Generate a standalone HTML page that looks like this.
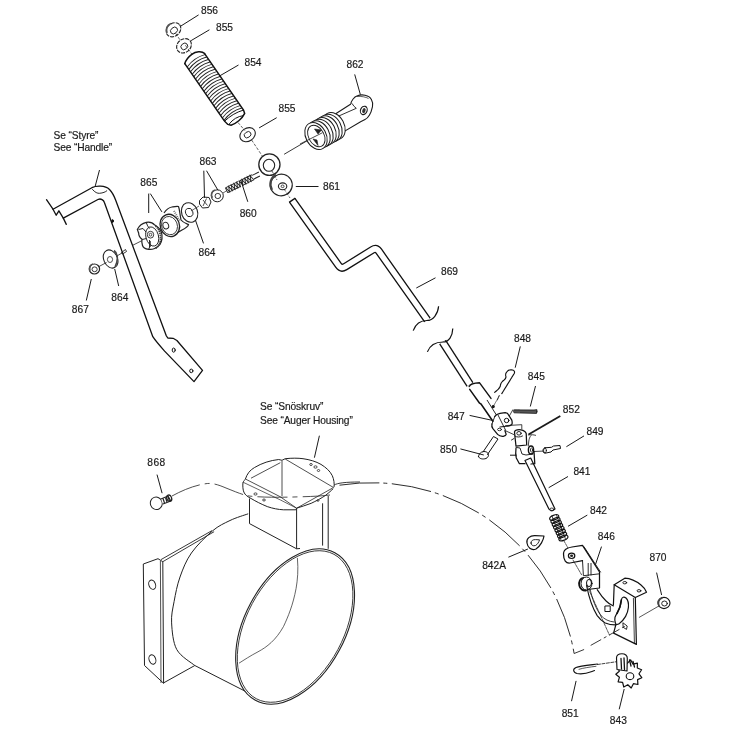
<!DOCTYPE html>
<html><head><meta charset="utf-8">
<style>
html,body{margin:0;padding:0;background:#fff;}
body{width:739px;height:749px;overflow:hidden;}
svg{display:block;will-change:transform;}
text{font-family:"Liberation Sans",sans-serif;font-size:10.2px;fill:#1a1a1a;stroke:#1a1a1a;stroke-width:0.18px;}
</style></head><body>
<svg width="739" height="749" viewBox="0 0 739 749">
<rect width="739" height="749" fill="#fff"/>
<g id="handle" stroke="#111" stroke-width="1.3" fill="none" stroke-linejoin="round" stroke-linecap="round">
<path d="M46.5 199.7 L53 209.2 L56.2 215.2 L58.9 210.8 L63.3 218.1 L66.3 224.4"/>
<path d="M53 209.2 L91.9 187.7 C96 185.6 105 185.2 109.5 189.5 C112.5 192.5 114.3 196.5 115.7 200.3 L166.2 335.6 L167.8 338 L173.1 338.3 L176.9 340.5 L202.5 370.4 L194 381.6 L164.6 351.1 C160 346 155 340 152.8 336.7 L104.4 202.5 C103.6 200 101 198.3 98.4 199.3 L63.3 218.1"/>
<path d="M92.5 189.5 C95 192.5 97.5 193.5 99.5 193.3 C103 193 105.5 192 106.8 190.8" stroke-width="0.9"/>
<ellipse cx="112.6" cy="221" rx="0.9" ry="1.5" fill="#111" stroke-width="0.8"/>
<ellipse cx="173.7" cy="350.1" rx="1.5" ry="2.1" stroke-width="1"/>
<ellipse cx="191.3" cy="370.9" rx="1.6" ry="1.8" stroke-width="1"/>
</g>
<g id="rod" fill="none" stroke-linejoin="round">
<path d="M292.2 200.25 L338.59 265.53 Q341.2 269.2 345.02 266.83 L372.38 249.87 Q376.2 247.5 378.80 251.18 L427.4 320.0" stroke="#111" stroke-width="8.0"/>
<path d="M292.2 200.25 L338.59 265.53 Q341.2 269.2 345.02 266.83 L372.38 249.87 Q376.2 247.5 378.80 251.18 L427.4 320.0" stroke="#fff" stroke-width="5.4"/>
<path d="M289.1 202.4 L295.3 198.1" stroke="#111" stroke-width="1.3"/>
<path d="M442.6 342 L470 384.5" stroke="#111" stroke-width="8.2"/>
<path d="M442.6 342 L470 384.5" stroke="#fff" stroke-width="5.6"/>
<path d="M413.2 330.6 C416 323 421 320.5 427 320.5 C433 320.5 438 314 438.6 306.3" stroke="#111" stroke-width="1.2"/>
<rect x="410" y="321.5" width="0" height="0"/>
<path d="M427.4 351.9 C430 345 435 342 443 342 C449 342 452.5 336 452.8 328.6" stroke="#111" stroke-width="1.2"/>
</g>
<g id="grip" transform="translate(194.7,58.6) rotate(55.4)" fill="none" stroke="#111" stroke-linecap="round">
<path d="M1.5 -11 C-2.5 -10.5 -5.5 -5 -5.2 0 C-5 4 -4 8 -1.5 11" stroke-width="1.5"/>
<path d="M1.5 -11 L70 -11 L73.5 -10 C76.5 -5 77 3 75.5 8 L73 10 C71 10.5 69.5 11 67.5 11 L-1.5 11" stroke-width="1.5"/>
<path d="M2.50 -10.6 Q-1.10 0 2.50 10.6 M5.45 -10.6 Q1.85 0 5.45 10.6 M8.40 -10.6 Q4.80 0 8.40 10.6 M11.35 -10.6 Q7.75 0 11.35 10.6 M14.30 -10.6 Q10.70 0 14.30 10.6 M17.25 -10.6 Q13.65 0 17.25 10.6 M20.20 -10.6 Q16.60 0 20.20 10.6 M23.15 -10.6 Q19.55 0 23.15 10.6 M26.10 -10.6 Q22.50 0 26.10 10.6 M29.05 -10.6 Q25.45 0 29.05 10.6 M32.00 -10.6 Q28.40 0 32.00 10.6 M34.95 -10.6 Q31.35 0 34.95 10.6 M37.90 -10.6 Q34.30 0 37.90 10.6 M40.85 -10.6 Q37.25 0 40.85 10.6 M43.80 -10.6 Q40.20 0 43.80 10.6 M46.75 -10.6 Q43.15 0 46.75 10.6 M49.70 -10.6 Q46.10 0 49.70 10.6 M52.65 -10.6 Q49.05 0 52.65 10.6 M55.60 -10.6 Q52.00 0 55.60 10.6 M58.55 -10.6 Q54.95 0 58.55 10.6 M61.50 -10.6 Q57.90 0 61.50 10.6 M64.45 -10.6 Q60.85 0 64.45 10.6 M67.40 -10.6 Q63.80 0 67.40 10.6" stroke-width="0.95" stroke="#222"/>
<path d="M70 -10.8 Q66.5 0 68.5 11" stroke-width="0.9"/>
<path d="M74.5 -7.5 Q70.5 0 73.5 9" stroke-width="0.9"/>
</g>
<g id="smallparts" fill="none" stroke="#222" stroke-width="1.1">
<!-- axis lines -->
<path d="M175.7 33.4 L180 39.9 M185.4 45.3 L192.5 55 M238 122.5 L244.9 130.6 M251.6 140 L262.5 156.3 M272 171 L277 180 M284 189 L290 198" stroke-width="0.7" stroke-dasharray="3 1.5"/>
<path d="M284.1 154.3 L322 132" stroke-width="0.9"/>
<path d="M132.5 245.4 L142.6 240.3 M99 266.5 L106.5 262.5 M116 256.5 L122 253" stroke-width="0.8"/>
<path d="M191 211 L199 206 M211 198 L213 196.5 M223 193 L227 190.5" stroke-width="0.7"/>
<!-- nut 856 -->
<ellipse cx="173.5" cy="29.8" rx="7.9" ry="6.4" transform="rotate(-40 173.5 29.8)" stroke-dasharray="4 1"/>
<path d="M167 33 C165.5 29 167 25 171 23.5" stroke-width="1.8" stroke="#555"/>
<ellipse cx="174" cy="30.5" rx="3.8" ry="3" transform="rotate(-40 174 30.5)" stroke-width="0.9"/>
<!-- washer 855 top -->
<ellipse cx="184" cy="45.8" rx="7.9" ry="6.6" transform="rotate(-40 184 45.8)" stroke-dasharray="4 1"/>
<ellipse cx="184.3" cy="46.4" rx="3.6" ry="3" transform="rotate(-40 184.3 46.4)" stroke-width="0.9"/>
<!-- washer 855 mid -->
<ellipse cx="247.6" cy="134.7" rx="8.2" ry="6.5" transform="rotate(-35 247.6 134.7)"/>
<ellipse cx="247.6" cy="134.7" rx="3.6" ry="2.8" transform="rotate(-35 247.6 134.7)" stroke-width="0.9"/>
<!-- eye bolt 860 -->
<ellipse cx="269.4" cy="164.6" rx="10.6" ry="10.8" stroke-width="1.3"/>
<ellipse cx="269" cy="165.3" rx="5.7" ry="6" stroke-width="1.1"/>
<g transform="translate(226.6,190.3) rotate(-26.4)">
<path d="M29.5 -2 L37 -2 M29.5 2 L36.2 2" stroke-width="1"/>
<path d="M0 -2.7 L14.5 -2.7 M16 -2.7 L29.5 -2.7 M0 2.7 L14.5 2.7 M16 2.7 L29.5 2.7 M0 -2.7 L0 2.7" stroke-width="0.9"/>
<path d="M0.50 -2.6 L2.00 2.6 L3.50 -2.6 L5.00 2.6 L6.50 -2.6 L8.00 2.6 L9.50 -2.6 L11.00 2.6 L12.50 -2.6 L14.00 2.6 L15.50 -2.6 L17.00 2.6 L18.50 -2.6 L20.00 2.6 L21.50 -2.6 L23.00 2.6 L24.50 -2.6 L26.00 2.6 L27.50 -2.6 L29.00 2.6" stroke-width="0.9"/>
</g>
<!-- nut 861 -->
<ellipse cx="281.3" cy="185" rx="11" ry="10.8" transform="rotate(-30 281.3 185)" stroke-width="1.2"/>
<path d="M272 190 C268.5 184 271 177 276 175" stroke-width="2.2" stroke="#444"/>
<ellipse cx="282.6" cy="186.3" rx="4.2" ry="3.4" stroke-width="1.1"/>
<ellipse cx="282.6" cy="186.3" rx="1.5" ry="1.3" stroke-width="0.8"/>
<!-- nuts 863 -->
<ellipse cx="217.3" cy="195.8" rx="6" ry="6" stroke-width="1"/>
<ellipse cx="217.8" cy="196" rx="2.8" ry="2.6" stroke-width="0.9"/>
<path d="M212 198 C210.5 194 212 191 215 190" stroke-width="1.6" stroke="#555"/>
<path d="M199.5 200.5 L203 197 L209 197.5 L211 202 L208.5 207.5 L202.5 208 L199.5 204 Z" stroke-width="1"/>
<path d="M203 200 L207.5 205.5 M206.5 198.5 L203 206" stroke-width="0.8"/>
<!-- washer 864 right -->
<ellipse cx="189.6" cy="212.5" rx="8" ry="10" transform="rotate(-20 189.6 212.5)" stroke-width="1.1"/>
<ellipse cx="189.2" cy="212.5" rx="3.6" ry="4.3" transform="rotate(-20 189.2 212.5)" stroke-width="0.9"/>
<!-- 865 cylinder -->
<path d="M164 213 C166 210 169 207.5 172 207 C175 206.5 177.5 206 178.5 206.6 C179.5 209 179.7 213 181 220 C183 222.5 186 223.5 188.5 224.6 C188 226.5 186 228 182 230 C178 232.5 174 235 170 236" stroke-width="1.2" fill="#fff"/>
<ellipse cx="169.8" cy="225.4" rx="9.6" ry="11.3" transform="rotate(-20 169.8 225.4)" stroke-width="1.3" fill="#fff"/>
<ellipse cx="169.5" cy="225.6" rx="7.8" ry="9.3" transform="rotate(-20 169.5 225.6)" stroke-width="0.8"/>
<ellipse cx="165.8" cy="225.6" rx="2.8" ry="3.4" transform="rotate(-20 165.8 225.6)" stroke-width="1"/>
<path d="M174 211 L180 221.5" stroke-width="2" stroke="#666" stroke-dasharray="1 1"/>
<!-- knob -->
<path d="M137.3 229.4 C139 226 143 223 146.3 222.3 C150 221.5 153 223 154.8 225.1 C158 227 160.5 229.5 161.4 232.2 C162.5 236 162 241 160 244.5 C157.5 248 152 250 148.6 249.3 C145 248.8 143 247.5 142.5 245.5 C141.8 243 141.5 241 142 239.3 C140 237.5 138.5 235.5 138.7 233.2 Z" stroke-width="1.2" fill="#fff"/>
<path d="M155.5 226 C159.5 229 161 235 160.5 240 C160 244 158 247 155 248.5" stroke-width="1.8" stroke="#333" stroke-dasharray="1.3 0.7"/>
<ellipse cx="152.2" cy="236.5" rx="6.3" ry="9.8" transform="rotate(-15 152.2 236.5)" stroke-width="0.9"/>
<path d="M138.5 229.5 L143 228.5 L146 232 M146.3 222.6 C147 225 148 227 149.5 228.5 M142.2 239.5 L146.5 238.5 M149.5 240 L150 246 L148.8 249" stroke-width="1"/>
<ellipse cx="150.5" cy="234.7" rx="3.2" ry="3.4" stroke-width="0.9"/>
<ellipse cx="150.5" cy="234.7" rx="1.3" ry="1.4" stroke-width="0.8"/>
<path d="M150 241 L149.8 247" stroke-width="1.4"/>
<!-- bolt on handle -->
<path d="M121.5 252.5 L125.5 249.5 L126.5 251.5 L122.5 254 Z" stroke-width="0.9"/>
<!-- washer 864 left -->
<ellipse cx="110.6" cy="259" rx="6.8" ry="9.5" transform="rotate(-25 110.6 259)" stroke-width="1.1"/>
<path d="M114 250.5 C118 253 118.5 260 115 267" stroke-width="1.5" stroke="#444"/>
<ellipse cx="110" cy="259.5" rx="2.6" ry="3" stroke-width="0.8"/>
<!-- nut 867 -->
<ellipse cx="94.4" cy="269" rx="5.2" ry="5" stroke-width="1.2"/>
<ellipse cx="94.6" cy="269.3" rx="2.6" ry="2.4" stroke-width="0.9"/>
<path d="M90 271 C89 267 90.5 264.5 93 264" stroke-width="1.6" stroke="#555"/>
</g>
<g id="housing" fill="none" stroke="#222" stroke-width="1.0" stroke-linejoin="round">
<!-- dashed arc phantom -->
<path d="M339.5 485.2 A205.74 205.74 0 0 1 574.1 653.5" stroke-width="0.95" stroke-dasharray="40 4 4 4.5"/>
<path d="M574.1 653.5 L584.1 649.5" stroke-width="0.9"/><path d="M590.7 645.4 L625.2 626.1" stroke-width="0.9" stroke-dasharray="12 3 3 3"/>
<!-- bolt path dashed -->
<path d="M172 496 C183 490 195 485 207.3 483.5 C213 483 219 485 226 488 C236 492 243 495 249 496 C262 497.5 280 497.5 300 496.8 C312 496.5 322 496 330 495" stroke-width="0.8" stroke-dasharray="30 5 5 5"/>
<!-- bolt 868 -->
<ellipse cx="156.3" cy="503.3" rx="5.9" ry="6.3" transform="rotate(-20 156.3 503.3)" stroke-width="1.0" fill="#fff"/>
<path d="M161 499 L168 496 L170.8 501 L163 504" stroke-width="1.1" fill="#fff"/>
<path d="M163 498.5 L164.5 503 M165.5 497.5 L167 502 M168 496.5 L169.5 501" stroke-width="1.2"/>
<ellipse cx="169.2" cy="498.2" rx="2.4" ry="3.2" transform="rotate(-20 169.2 498.2)" stroke-width="1.3"/>
<!-- cylinder body -->

<path d="M248.2 513.8 C245.2 514.9 235.9 517.6 230 520.5 C224.1 523.4 218.9 525.5 212.5 530.9 C206.1 536.3 196.8 545.3 191.4 553 C186.0 560.7 182.9 568.9 180 577 C177.1 585.1 175.5 593.9 174.1 601.5 C172.7 609.1 171.1 614.9 171.6 622.9 C172.1 630.9 172.9 642.5 176.8 649.6 C180.7 656.7 191.8 662.9 194.8 665.5 L247.5 692.4" stroke-width="1.0"/>
<!-- side plate -->
<path d="M143.3 564 L158 558.7 L162.8 561.7 L163.6 683.3 L144.5 665.5 Z" stroke-width="1.0" fill="#fff"/>
<path d="M160.4 561 L161 683" stroke-width="0.8"/>
<ellipse cx="152.2" cy="584.7" rx="3.3" ry="4.8" transform="rotate(-20 152.2 584.7)" stroke-width="1.0"/>
<ellipse cx="152.4" cy="659.5" rx="3.3" ry="4.8" transform="rotate(-20 152.4 659.5)" stroke-width="1.0"/>
<path d="M162.8 561.7 L214.1 531.7 M161 559.6 L212 530.6" stroke-width="0.9"/>
<path d="M163.4 683 L194.8 665.5" stroke-width="1"/>
<!-- front ellipse -->
<ellipse cx="295.1" cy="626.5" rx="83.8" ry="50.2" transform="rotate(-61.7 295.1 626.5)" stroke-width="1.1" fill="#fff"/>
<ellipse cx="295.1" cy="626.5" rx="82" ry="48.6" transform="rotate(-61.7 295.1 626.5)" stroke-width="0.8"/>
<path d="M297.4 557.9 C298.5 570 297.5 580 296.1 588.4 C293 605 288 617 283.5 626.5 C276 640 267 647 258 651.8 C250 656 244 660 239 663.2" stroke-width="0.7"/>
<!-- chute -->
<path d="M249.5 498.5 L249.5 523.6 L296.6 548.8 L296.6 508.2 M296.6 548.8 L300 548.5 M322.6 503.3 L322.6 545.6 M328.2 496 L328.2 548.8" stroke-width="1"/>
<path d="M245.4 479 C247 474 250 470 254.4 467.6 C262 463 270 460.5 278.7 459.5 L282 460.3 L285.2 458.7 C292 458 298 458 303 458.7 C310 459.7 316 461.5 321 464.4 C326 467.5 330 471 332.3 475.7 C334 479.5 334.5 484 334 487.1" stroke-width="1.0"/>
<path d="M243 482.2 C242.5 486 243 490 243.8 492 C245 495 248 497 251.1 498.5 C256 501.5 261 504 267.3 506.6 C273 508.5 278 509.5 283.6 509.8 L295.8 509.8 L296.6 508.2 C301 507 306 505 311.2 503.3 C316 501 321 498.5 325.8 495.2 C329 492.5 331.5 490.5 333.1 488.7" stroke-width="1.0"/>
<path d="M243 482.2 L245.4 479 L280.3 496.8 L296.6 508.2 M282 461 L282 496 M285.2 459 L333.5 487.5 M251 478.2 L280.3 462.7 M297 508 L333.5 487.5" stroke-width="0.8"/>
<path d="M243 482.2 L280.5 500 L296.6 508.2" stroke-width="0.7"/>
<ellipse cx="255.5" cy="494" rx="1.6" ry="1.1" stroke-width="0.8"/>
<ellipse cx="264" cy="500" rx="1.4" ry="1" stroke-width="0.8"/>
<ellipse cx="311" cy="464.5" rx="1.3" ry="1" stroke-width="0.8"/>
<ellipse cx="315.5" cy="467" rx="1.6" ry="1.2" stroke-width="0.8"/>
<ellipse cx="318.5" cy="470.5" rx="1.2" ry="1" stroke-width="0.8"/>
<ellipse cx="318" cy="500.5" rx="1" ry="0.8" stroke-width="0.8"/>
<path d="M360 482 C345 482 338 483 334 485" stroke-width="0.9"/>
</g>
<g id="p862" fill="none" stroke="#1a1a1a" stroke-width="1.1" stroke-linejoin="round">
<path d="M350.9 104 C351 101 354 97 357.4 95.8 C360 94.8 363 94.8 365 95.3 C368 96 370.5 97.5 371.4 99.6 C373 102.5 373 104.5 372.5 106.7 C371.8 110 371 113 369.3 115.3 C368 117.5 366.5 119 365 119.6 L360.6 121.8 L342.2 132.6 L333 125 Z" fill="#fff" stroke="none"/>
<path d="M350.9 104 C351 101 354 97 357.4 95.8 C360 94.8 363 94.8 365 95.3 C368 96 370.5 97.5 371.4 99.6 C373 102.5 373 104.5 372.5 106.7 C371.8 110 371 113 369.3 115.3 C368 117.5 366.5 119 365 119.6 L360.6 121.8 L342.2 132.6 M335.7 113.7 L350.9 104"/>
<path d="M352 103.4 C353 105.5 354.5 107 356.3 108.3 M337.9 116.4 L356.3 108.3" stroke-width="0.9"/>
<path d="M357 96.5 C361 96 366 97 368.5 98.5" stroke-width="0.7"/>
<ellipse cx="363.8" cy="110.4" rx="3.3" ry="4.3" transform="rotate(20 363.8 110.4)" stroke-width="1.1"/>
<ellipse cx="363.9" cy="110.6" rx="1.6" ry="2.6" transform="rotate(20 363.9 110.6)" fill="#333" stroke="none"/>
<ellipse cx="334.0" cy="126.0" rx="10.2" ry="14.3" transform="rotate(-28 334.0 126.0)" stroke-width="1" fill="#fff"/>
<ellipse cx="331.0" cy="127.7" rx="10.2" ry="14.3" transform="rotate(-28 331.0 127.7)" stroke-width="1" fill="#fff"/>
<ellipse cx="328.0" cy="129.3" rx="10.2" ry="14.3" transform="rotate(-28 328.0 129.3)" stroke-width="1" fill="#fff"/>
<ellipse cx="325.0" cy="131.0" rx="10.2" ry="14.3" transform="rotate(-28 325.0 131.0)" stroke-width="1" fill="#fff"/>
<ellipse cx="322.0" cy="132.7" rx="10.2" ry="14.3" transform="rotate(-28 322.0 132.7)" stroke-width="1" fill="#fff"/>
<ellipse cx="319.0" cy="134.3" rx="10.2" ry="14.3" transform="rotate(-28 319.0 134.3)" stroke-width="1" fill="#fff"/>
<ellipse cx="316.0" cy="136.0" rx="10.2" ry="14.3" transform="rotate(-28 316.0 136.0)" stroke-width="1" fill="#fff"/>
<ellipse cx="316.3" cy="136" rx="7.8" ry="11.5" transform="rotate(-28 316.3 136)" stroke-width="0.9"/>
<path d="M314.5 129 L318 134 L321.5 130 Z M313 139 L317 140 L318 145.5 Z" fill="#222" stroke-width="0.6"/>
<path d="M300 144 L322.7 132.6" stroke-width="0.8"/>
</g>
<g id="mech" fill="none" stroke="#111" stroke-width="1.25" stroke-linejoin="round" stroke-linecap="round">
<!-- sleeve -->
<path d="M469.2 386.6 C470 384.5 474 383 479.6 382.8 L491 398.4" stroke-width="1.4"/>
<path d="M469.7 389.4 L479.6 403.2 L481 404 L492.9 421.2" stroke-width="1.5"/>
<path d="M487.2 400.3 L496.7 415.5" stroke-width="0.9"/>
<!-- cotter pin 848 -->
<path d="M501.8 393.6 L514.2 373.5 C515 372 514.5 370.5 512.5 370 C510.5 369.5 508.5 370 507.7 371 C506 372.5 505.3 374 505.8 376 C506.3 377.5 505.5 379 503.5 380.5 C501.5 382 500.5 384 500.3 386 C499.5 388.5 497 390.5 494.7 392.3" stroke-width="1.15" stroke-dasharray="1.6 0.5"/>
<path d="M499 395.7 L497.4 400" stroke-width="0.7"/>
<path d="M499.5 395.6 L492.9 407" stroke-width="0.6" stroke-dasharray="2 1"/>
<ellipse cx="493.2" cy="406.5" rx="1" ry="1" fill="#222"/>
<!-- pin 845 -->
<path d="M512.8 409.8 L508 418.3" stroke-width="0.8"/>
<path d="M514.3 411.3 L536.5 411.6" stroke-width="3" stroke="#555" stroke-dasharray="1 0.5"/><path d="M514.3 409.9 L534 410 L536.8 409.5 L536.5 413.5 L514.3 412.8" stroke-width="0.8"/>
<!-- clevis 847 -->
<path d="M494.8 416.4 C496 414.5 498 413.7 500 413.3 L505.2 412.6 C507 412.8 508 413.5 508.5 414.8 L511.8 420.2 C512.3 422 512.3 423.5 511.8 424.5 C510.5 425.6 509.5 426 508 426 L500 427" fill="#fff"/>
<path d="M492 424 C491.5 426 492 427.5 492.9 428.7 L497.6 434.4 C499 435.8 501 436.5 503.3 436.3 C505 436 506 435.5 506.2 434.4 L505 431" fill="#fff"/>
<path d="M494.8 416.4 L492 424 M498 415 L505.5 430" stroke-width="0.9"/>
<ellipse cx="506.6" cy="420.5" rx="2.3" ry="2.2" stroke-width="1"/>
<path d="M505.6 425.6 L521.8 424.7 L521.8 428.8 M504.7 430.4 L513.7 434.5" stroke-width="0.8"/>
<ellipse cx="499.5" cy="429.5" rx="2" ry="1.2" stroke-width="0.8"/>
<!-- bolt 850 -->
<path d="M483 452 L493.5 436.5 L498 439 L487.5 454.5" stroke-width="1"/>
<path d="M478.5 456.5 C479 452.5 483 450.5 486.5 452 C489.5 453.5 489 457 486 458.5 C483 459.5 479 459 478.5 456.5 Z" stroke-width="1"/>
<!-- swivel 852 -->
<path d="M514.5 432 C515 430 518 429.5 521 429.8 C523.5 430.2 525.5 431.5 526.2 433.5 L526.7 445 L516 446.2 L515 437 Z" fill="#fff"/>
<path d="M514.8 436 C516.5 437.5 520 437.3 522.5 436" stroke-width="0.9"/>
<ellipse cx="519" cy="433.3" rx="2.2" ry="1.8" stroke-width="0.9"/>
<path d="M511.5 440 L514 438.5" stroke-width="0.9"/>
<path d="M528.3 434.9 C531 434.5 533.5 434.7 535.6 435.3 M531 435.5 C529.5 437 529.1 439.4 528.8 441 L528.3 445.9" stroke-width="0.8"/>
<!-- lower bracket -->
<path d="M516 448 C515.5 452 515.8 456 516.3 458 L519.4 463.7 L525 463.7 M534 451.5 L534.8 463.7 L531 464" fill="#fff"/>
<path d="M516.5 447.5 L520 448 L522 454 L526 455 L533 454" stroke-width="0.9"/>
<path d="M510.4 455.2 L516.1 455.2" stroke-width="1"/>
<ellipse cx="531" cy="450" rx="2.6" ry="4" fill="#fff" stroke-width="1.4"/>
<ellipse cx="531.5" cy="450" rx="1.1" ry="2" stroke-width="0.8"/>
<!-- pin 849 -->
<path d="M534 451.5 L542.9 451.1" stroke-width="0.8"/>
<path d="M545 447.8 L551.5 447.3 L553.5 446 L560 445.5 L560.5 448.5 L553 450 L551 452 L545 453.2 C542.5 453.2 542 448 545 447.8 Z" stroke-width="1"/>
<ellipse cx="545" cy="450.5" rx="1.4" ry="2.4" stroke-width="0.8"/>
<!-- rod 841 -->
<path d="M525 460.5 L548.9 509 M530.7 458 L555 509 M548.9 509 C550.5 511 553.5 511 555 509 M525 460.5 L530.7 458" stroke-width="1.2"/>
<ellipse cx="551.8" cy="509.5" rx="2" ry="1.5" stroke-width="0.8"/>
<!-- spring 842 -->
<path d="M552 516 L561 540 M556.5 515 L565.5 539" stroke-width="0.8"/>
<ellipse cx="554.2" cy="517.5" rx="4.8" ry="2.3" transform="rotate(-22 554.2 517.5)" stroke-width="1.15"/>
<ellipse cx="555.5" cy="520.4" rx="4.8" ry="2.3" transform="rotate(-22 555.5 520.4)" stroke-width="1.15"/>
<ellipse cx="556.8" cy="523.4" rx="4.8" ry="2.3" transform="rotate(-22 556.8 523.4)" stroke-width="1.15"/>
<ellipse cx="558.1" cy="526.3" rx="4.8" ry="2.3" transform="rotate(-22 558.1 526.3)" stroke-width="1.15"/>
<ellipse cx="559.5" cy="529.2" rx="4.8" ry="2.3" transform="rotate(-22 559.5 529.2)" stroke-width="1.15"/>
<ellipse cx="560.8" cy="532.1" rx="4.8" ry="2.3" transform="rotate(-22 560.8 532.1)" stroke-width="1.15"/>
<ellipse cx="562.1" cy="535.1" rx="4.8" ry="2.3" transform="rotate(-22 562.1 535.1)" stroke-width="1.15"/>
<ellipse cx="563.4" cy="538.0" rx="4.8" ry="2.3" transform="rotate(-22 563.4 538.0)" stroke-width="1.15"/>
<path d="M564 541 L568 548" stroke-width="0.7" stroke-dasharray="2 1.2"/>
<!-- washer 842A -->
<path d="M527 543 C526 538.5 530 535.5 535 535.7 L544 536 C543.5 540 540.5 546 536 549 C531 551 527.5 547 527 543 Z" stroke-width="1.2"/>
<path d="M531 543 C531 540.5 533 539.5 535.5 539.6 L539.5 539.8 C539 542 537.5 544.5 535.5 545.5 C533 546.5 531 545 531 543 Z" stroke-width="0.9"/>
<!-- lever 846 -->
<path d="M563.5 554 C563.5 551.5 565 549.5 567 548.5 C568.5 547.7 570 547.3 572 547 L582.5 545.4 L599.5 572 L599.5 588 L583.5 590" fill="#fff"/>
<path d="M582.5 560.6 L570 563 C566 563.5 563.5 560.5 563.5 554" fill="#fff"/>
<path d="M582.5 560.6 L583.4 575.7 L599.5 573.8 M584 546.8 L600.5 572 M588.2 563.4 L588.2 575.7 M591 563.4 L591 575" stroke-width="0.9"/>
<ellipse cx="571.6" cy="555.8" rx="3.2" ry="2.7" stroke-width="1.2"/>
<ellipse cx="571.6" cy="555.8" rx="1.5" ry="1.2" fill="#222" stroke="none"/>
<path d="M573 560 L582 575.5" stroke-width="0.7" stroke-dasharray="2 1"/>
<path d="M584 578 C580 578 578.5 582 579.3 585.5 C580 589 583 591 586 590.5" stroke-width="1.8"/>
<ellipse cx="586.5" cy="583.5" rx="5.5" ry="6.5" stroke-width="1" fill="#fff"/>
<ellipse cx="589" cy="583" rx="2.5" ry="3.6" stroke-width="1"/>
<!-- lever lower arm -->
<path d="M586.6 585.6 C589 598 592.5 608 597.2 615.6 C600 619.5 602.5 621.5 605.3 622.9 C609 624.5 612.5 625 615.9 624.9" stroke-width="1.1"/>
<path d="M597.2 589.6 C600 594 603 598 606.1 601 C608.5 603.5 611 605 613.4 605.9" stroke-width="1.1"/>
<path d="M590 588.8 C592.5 600 596 609 601 615.5 C604.5 619.5 609 621.5 614 622" stroke-width="0.8"/>
<!-- axis line through lever -->
<path d="M586.6 584.7 L609.4 635" stroke-width="0.7" stroke-dasharray="3 1.2"/>
<!-- mounting plate -->
<path d="M614.2 584.7 L624.8 578.2 C630 578.5 636 581 641 585 C643.5 587 645.5 589.5 646.5 592.2 L635.3 597.5 Z" fill="#fff" stroke-width="1.2"/>
<path d="M614.2 584.7 L613.4 605 M635.3 597.5 L636.4 644.4 L613.6 633.1 L615.9 624.5" stroke-width="1.2"/>
<path d="M633.4 598.2 L634.4 643" stroke-width="0.8"/>
<path d="M621.5 599.4 C622 597 624 596.5 626 598 C628 600 628.7 604 628.4 607.5 C628 611 627 614 625.6 616.4 C623.5 620 621 622.5 619.1 623.7 C617.5 624.7 616 624.6 615.5 623.5 C614.8 621.5 614.5 619.5 615 617.2 C616.5 613.5 618.5 611 619.9 607.5 C620.8 605 621.2 602 621.5 599.4 Z" stroke-width="1.2" fill="#fff"/>
<path d="M621.3 600 C620.8 605 619.5 609 617 613.5" stroke-width="1.6"/>
<path d="M605.3 606 L610.2 605.9 L610.2 611.5 L605.3 611.5 Z" stroke-width="1"/>
<ellipse cx="624.8" cy="582.7" rx="1.9" ry="1.2" stroke-width="0.9"/>
<ellipse cx="639" cy="590.8" rx="1.9" ry="1.2" stroke-width="0.9"/>
<path d="M623.2 623 L627.2 626 L626.5 629.4 L623.5 627.5 Z" stroke-width="0.9"/>
<!-- nut 870 -->
<path d="M639.3 617.3 L660.6 605" stroke-width="0.7"/>
<ellipse cx="664" cy="603" rx="6" ry="5.6" stroke-width="1.1" fill="#fff"/>
<path d="M659 606 C657.5 602 659 599 662 597.8" stroke-width="1.8" stroke="#444"/>
<ellipse cx="664.5" cy="603.5" rx="2.8" ry="2.5" stroke-width="0.9"/>
<!-- hairpin 851 -->
<path d="M597.5 664 C590 665 580 666 576 667.5 C572.5 669 573 672.5 577 673.5 C582 674.5 588 673 592 671.5 L594.5 670.5" stroke-width="1.1"/>
<path d="M596 666.3 C590 667 583 668 579 669.3" stroke-width="0.7"/>
<path d="M597.5 664.5 L615.9 661.8" stroke-width="0.8" stroke-dasharray="3 1.5"/>
<!-- star nut 843 -->
<path d="M630.6 659.9 L633.0 664.1 L637.4 663.1 L637.3 668.0 L641.6 669.7 L639.0 673.8 L641.8 677.7 L637.6 679.6 L637.9 684.5 L633.4 683.7 L631.2 688.0 L627.8 684.7 L623.8 687.0 L622.6 682.3 L618.1 681.9 L619.4 677.3 L615.8 674.3 L619.3 671.2 L617.7 666.6 L622.3 666.0 L623.2 661.2 L627.3 663.3 Z" fill="#fff" stroke-width="1.2"/>
<ellipse cx="630" cy="676.2" rx="3.8" ry="3.4" stroke-width="1.1"/>
<path d="M616.5 658 C616.5 655 619 653.7 622 653.7 C625 653.7 627.5 655.5 627.3 658.5 L627 671 L617 669.5 Z" fill="#fff" stroke-width="1.15"/>
<path d="M621 658.5 L621.5 669 M624 658 L624.5 669.5 M629.5 660 L631 666 M633 661.5 L634.5 667" stroke-width="1.3"/>
</g>
<g id="labels">
<text x="201" y="14.4">856</text>
<text x="216" y="31.4">855</text>
<text x="244.5" y="65.9">854</text>
<text x="278.5" y="112.4">855</text>
<text x="346.5" y="67.9">862</text>
<text x="199.5" y="165.2">863</text>
<text x="140.3" y="185.7">865</text>
<text x="323" y="190.2">861</text>
<text x="239.7" y="216.9">860</text>
<text x="198.5" y="256.1">864</text>
<text x="111.3" y="300.6">864</text>
<text x="71.8" y="312.9">867</text>
<text x="441" y="275.4">869</text>
<text x="514" y="341.9">848</text>
<text x="527.8" y="380.4">845</text>
<text x="447.7" y="419.5">847</text>
<text x="562.8" y="413.4">852</text>
<text x="586.5" y="434.8">849</text>
<text x="440.1" y="453.3">850</text>
<text x="573.4" y="475.4">841</text>
<text x="590" y="513.7">842</text>
<text x="597.8" y="539.6">846</text>
<text x="482.2" y="569.0">842A</text>
<text x="649.5" y="561.1">870</text>
<text x="561.7" y="716.6">851</text>
<text x="609.8" y="724.1">843</text>
<text x="147.3" y="466.2" font-size="9.3" letter-spacing="0.45">868</text>
<text x="53.5" y="138.9" font-size="10.5" letter-spacing="-0.1">Se “Styre”</text>
<text x="53.5" y="151.1" font-size="10.5" letter-spacing="-0.12">See “Handle”</text>
<text x="260" y="410.2" font-size="10.5" letter-spacing="-0.1">Se “Snöskruv”</text>
<text x="260" y="423.6" font-size="10.5" letter-spacing="-0.13">See “Auger Housing”</text>
</g>
<g id="leaders" stroke="#1a1a1a" stroke-width="1" fill="none">
<path d="M198.6 14.9 L180.3 26.4"/>
<path d="M209.4 29.8 L191.1 40.6"/>
<path d="M238.5 65 L219.5 76"/>
<path d="M276.7 117.7 L259.1 127.9"/>
<path d="M354.7 74.4 L360.4 94.7"/>
<path d="M203.8 170.7 L204.5 197.8 M206.5 170.7 L218 190.3"/>
<path d="M148.7 193.6 L148.7 213 M150.3 193.6 L161.9 211.9"/>
<path d="M295.8 186.5 L318.5 186.5"/>
<path d="M241 180.9 L247.8 201.8"/>
<path d="M195.4 220 L203.5 243.4"/>
<path d="M114.7 269 L118.7 286"/>
<path d="M91.3 279 L86.3 300.5"/>
<path d="M99.5 170 L95.2 186.2"/>
<path d="M435.5 277.8 L416.3 288"/>
<path d="M520.3 346.4 L515.2 367.7"/>
<path d="M535.5 386 L530.3 406.5"/>
<path d="M469.6 415.4 L493 420.5"/>
<path d="M560.3 416 L528.5 434.5" stroke-width="1.8"/>
<path d="M584 435.9 L566.4 446.7"/>
<path d="M460.4 448.9 L483.8 455"/>
<path d="M568 476.5 L548.7 487.7"/>
<path d="M587.3 515.1 L568 526.3"/>
<path d="M601.5 546.6 L595.4 564.8"/>
<path d="M508.4 557.2 L527.9 549"/>
<path d="M656.6 572.6 L661.6 595"/>
<path d="M576.1 680.9 L571.5 701.2"/>
<path d="M624.2 689 L619.2 709.3"/>
<path d="M157 474.6 L162.1 493.2"/>
<path d="M319.4 435.7 L314.4 457.7"/>
</g>
</svg>
</body></html>
